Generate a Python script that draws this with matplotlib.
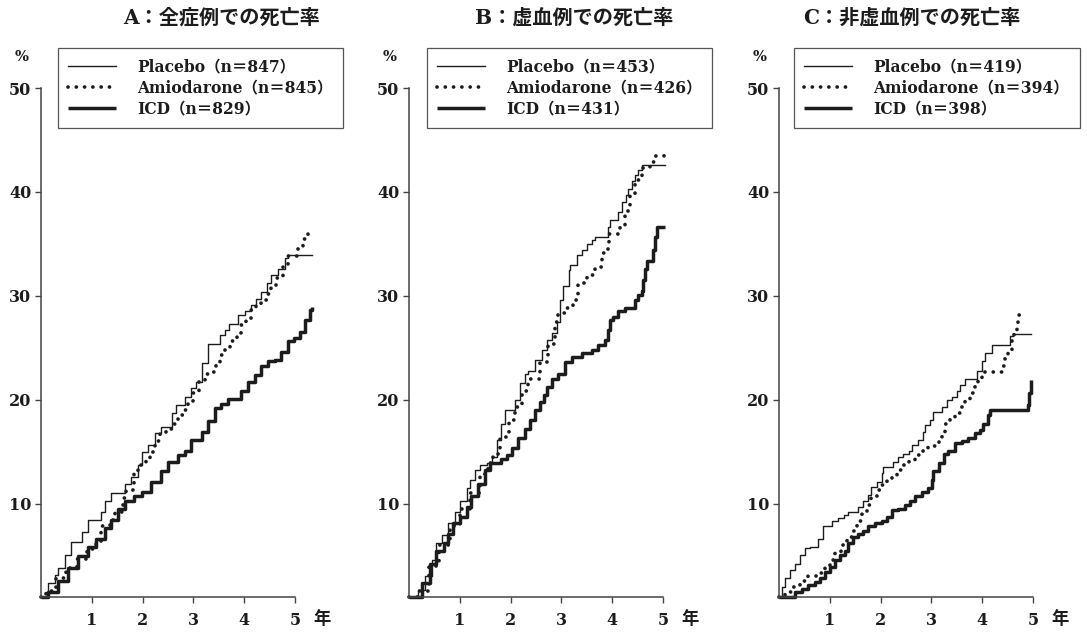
import matplotlib
matplotlib.use("Agg")
import matplotlib.pyplot as plt
import numpy as np

plt.rcParams["font.family"] = ["DejaVu Serif", "Noto Sans CJK JP"]
plt.rcParams["font.weight"] = "bold"

# ---- data (years, cumulative mortality %) ----
titles = ["A：全症例での死亡率", "B：虚血例での死亡率", "C：非虚血例での死亡率"]
groups = ["Placebo", "Amiodarone", "ICD"]
n_counts = [[847, 845, 829], [453, 426, 431], [419, 394, 398]]
x_ticks = [1, 2, 3, 4, 5]
y_ticks = [10, 20, 30, 40, 50]

# panel A
a_placebo_t = [0, 0.14, 0.27, 0.33, 0.47, 0.60, 0.80, 0.93, 1.19, 1.25, 1.38, 1.65, 1.78, 1.91,
               1.98, 2.11, 2.24, 2.37, 2.57, 2.66, 2.83, 2.96, 3.06, 3.16, 3.29, 3.52, 3.62,
               3.71, 3.88, 4.01, 4.14, 4.24, 4.34, 4.44, 4.53, 4.67, 4.80, 4.86, 5.33]
a_placebo_y = [1.0, 2.3, 3.1, 3.8, 5.0, 6.3, 7.3, 8.4, 9.2, 10.2, 11.0, 11.9, 12.6, 13.7,
               15.0, 15.6, 16.8, 17.4, 18.7, 19.5, 20.3, 21.1, 21.7, 23.5, 25.4, 26.2, 26.7,
               27.3, 28.1, 28.5, 29.1, 29.7, 30.4, 31.2, 32.0, 32.6, 33.6, 33.9, 33.9]
a_amio_t = [0, 0.1, 0.3, 0.5, 0.7, 0.9, 1.09, 1.19, 1.35, 1.45, 1.61, 1.68, 1.84, 1.91, 2.07,
            2.14, 2.24, 2.34, 2.47, 2.60, 2.70, 2.80, 2.89, 2.99, 3.12, 3.22, 3.39, 3.45, 3.52,
            3.62, 3.73, 3.85, 3.94, 4.04, 4.14, 4.24, 4.34, 4.44, 4.53, 4.63, 4.76, 4.86, 5.05,
            5.15, 5.26]
a_amio_y = [1.0, 1.6, 2.8, 3.8, 4.7, 5.6, 6.3, 7.8, 8.4, 9.2, 10.5, 11.3, 13.1, 13.7, 14.2,
            15.0, 16.0, 16.8, 17.2, 17.7, 18.5, 19.0, 19.8, 20.6, 21.7, 22.5, 22.7, 23.5, 24.3,
            25.1, 25.6, 26.4, 27.2, 27.8, 28.6, 29.1, 29.6, 30.2, 30.9, 31.7, 32.8, 33.8, 34.7,
            35.5, 35.9]
a_icd_t = [0, 0.14, 0.33, 0.53, 0.73, 0.93, 1.09, 1.25, 1.38, 1.52, 1.65, 1.84, 1.98, 2.17,
           2.37, 2.50, 2.70, 2.83, 2.96, 3.16, 3.29, 3.42, 3.55, 3.68, 3.94, 4.07, 4.21, 4.34,
           4.47, 4.60, 4.73, 4.86, 4.99, 5.09, 5.20, 5.30, 5.33]
a_icd_y = [1.0, 1.5, 2.5, 3.8, 4.9, 5.8, 6.6, 7.6, 8.4, 9.5, 10.2, 10.7, 11.1, 12.1,
           13.1, 14.0, 14.7, 15.1, 16.1, 16.9, 17.9, 19.2, 19.6, 20.1, 20.8, 21.7, 22.4, 23.2,
           23.7, 23.8, 24.6, 25.6, 25.9, 26.5, 27.7, 28.6, 28.9]

# panel B
b_placebo_t = [0, 0.18, 0.31, 0.45, 0.54, 0.64, 0.77, 0.91, 1.0, 1.14, 1.20, 1.30, 1.40, 1.53,
               1.63, 1.73, 1.81, 1.89, 2.09, 2.19, 2.28, 2.35, 2.48, 2.61, 2.71, 2.81, 2.91,
               2.97, 3.04, 3.14, 3.17, 3.30, 3.40, 3.50, 3.60, 3.66, 3.92, 3.96, 4.12, 4.19,
               4.28, 4.32, 4.38, 4.45, 4.51, 4.58, 5.04]
b_placebo_y = [1.0, 1.7, 3.0, 4.6, 6.2, 7.0, 8.1, 9.2, 10.2, 11.5, 12.3, 13.2, 13.7, 13.9,
               14.5, 16.1, 17.7, 19.0, 20.0, 21.6, 22.5, 22.8, 23.8, 24.8, 25.7, 26.4, 27.5,
               29.6, 30.9, 32.5, 33.0, 33.9, 34.4, 35.0, 35.4, 35.7, 36.6, 37.3, 38.1, 39.0,
               39.7, 40.3, 41.0, 41.6, 42.1, 42.6, 42.6]
b_amio_t = [0, 0.2, 0.4, 0.6, 0.8, 1.0, 1.2, 1.4, 1.55, 1.66, 1.79, 1.96, 2.09, 2.22, 2.35,
            2.58, 2.74, 2.87, 2.94, 3.07, 3.23, 3.33, 3.50, 3.66, 3.79, 3.92, 3.94, 4.15, 4.25,
            4.35, 4.45, 4.58, 4.74, 4.84, 5.01]
b_amio_y = [1.0, 1.6, 4.0, 6.0, 7.8, 9.5, 11.0, 12.8, 13.9, 14.8, 16.4, 18.0, 19.3, 20.8, 22.0,
            23.6, 25.4, 27.5, 28.3, 28.8, 29.6, 31.2, 32.0, 32.8, 34.1, 35.2, 35.9, 36.8, 38.2,
            39.7, 41.1, 42.3, 42.9, 43.5, 43.8]
b_icd_t = [0, 0.12, 0.25, 0.41, 0.54, 0.68, 0.77, 0.87, 1.0, 1.14, 1.23, 1.36, 1.50, 1.59,
           1.82, 1.92, 2.02, 2.15, 2.28, 2.38, 2.48, 2.58, 2.65, 2.71, 2.81, 2.94, 3.07, 3.20,
           3.40, 3.60, 3.73, 3.86, 3.92, 3.96, 4.02, 4.12, 4.25, 4.45, 4.51, 4.58, 4.61, 4.65,
           4.68, 4.81, 4.84, 4.88, 5.04]
b_icd_y = [1.0, 1.0, 2.3, 4.2, 5.4, 6.2, 7.1, 8.1, 8.7, 9.7, 10.7, 11.9, 13.2, 13.9,
           14.3, 14.7, 15.3, 16.3, 17.2, 18.0, 19.0, 19.8, 20.4, 21.2, 22.0, 22.5, 23.6, 24.1,
           24.5, 24.8, 25.3, 25.7, 26.7, 27.7, 28.0, 28.5, 28.8, 29.6, 30.1, 30.5, 31.5, 32.6,
           33.3, 34.4, 35.7, 36.6, 36.6]

# panel C
c_placebo_t = [0, 0.05, 0.12, 0.22, 0.31, 0.41, 0.51, 0.61, 0.77, 0.87, 1.04, 1.17, 1.27, 1.36,
               1.56, 1.66, 1.76, 1.82, 1.92, 2.02, 2.05, 2.25, 2.35, 2.45, 2.55, 2.61, 2.74,
               2.84, 2.87, 2.97, 3.04, 3.20, 3.30, 3.40, 3.50, 3.56, 3.66, 3.89, 3.99, 4.06,
               4.19, 4.55, 4.61, 4.96]
c_placebo_y = [1.0, 2.0, 2.8, 3.6, 4.2, 5.0, 5.7, 5.8, 6.6, 7.8, 8.3, 8.6, 8.9, 9.2,
               9.7, 10.2, 10.8, 11.6, 12.1, 12.9, 13.5, 14.0, 14.5, 14.8, 15.1, 15.6, 16.1,
               16.9, 17.6, 18.0, 18.8, 19.3, 20.0, 20.3, 20.8, 21.4, 22.0, 22.8, 23.7, 24.5,
               25.3, 26.1, 26.3, 26.3]
c_amio_t = [0, 0.12, 0.25, 0.41, 0.58, 0.81, 0.91, 1.0, 1.10, 1.23, 1.33, 1.43, 1.53, 1.63,
            1.73, 1.82, 1.92, 2.02, 2.12, 2.22, 2.32, 2.41, 2.55, 2.68, 2.81, 2.94, 3.07, 3.14,
            3.20, 3.27, 3.37, 3.46, 3.56, 3.66, 3.76, 3.86, 3.92, 3.99, 4.38, 4.45, 4.51, 4.58,
            4.63, 4.68, 4.71, 4.84]
c_amio_y = [1.0, 1.5, 2.0, 2.5, 3.0, 3.3, 3.8, 4.6, 5.2, 6.0, 6.8, 7.4, 8.3, 9.1,
            9.9, 10.7, 11.3, 11.8, 12.3, 12.7, 13.2, 13.7, 14.2, 14.7, 15.1, 15.5, 15.7, 16.0,
            16.9, 17.7, 18.2, 18.7, 19.3, 20.0, 20.6, 21.4, 22.0, 22.7, 23.2, 24.0, 24.8, 25.7,
            26.5, 27.3, 28.1, 28.1]
c_icd_t = [0, 0.22, 0.31, 0.45, 0.58, 0.71, 0.81, 0.91, 1.0, 1.10, 1.20, 1.30, 1.36, 1.46,
           1.56, 1.66, 1.76, 1.89, 2.02, 2.12, 2.22, 2.35, 2.48, 2.58, 2.68, 2.81, 2.94, 3.01,
           3.04, 3.14, 3.24, 3.33, 3.46, 3.60, 3.73, 3.86, 3.96, 4.02, 4.12, 4.15, 4.91, 4.92,
           4.96, 4.97]
c_icd_y = [1.0, 1.0, 1.5, 1.8, 2.2, 2.4, 2.8, 3.4, 3.9, 4.6, 5.0, 5.4, 6.2, 6.8,
           7.1, 7.4, 7.8, 8.1, 8.3, 8.7, 9.4, 9.5, 9.9, 10.2, 10.7, 11.1, 11.5, 12.3,
           13.1, 13.9, 14.8, 15.1, 15.8, 16.0, 16.3, 16.8, 17.1, 17.7, 18.5, 19.0, 19.5, 20.6,
           21.9, 21.9]

panels = [
    [(a_placebo_t, a_placebo_y), (a_amio_t, a_amio_y), (a_icd_t, a_icd_y)],
    [(b_placebo_t, b_placebo_y), (b_amio_t, b_amio_y), (b_icd_t, b_icd_y)],
    [(c_placebo_t, c_placebo_y), (c_amio_t, c_amio_y), (c_icd_t, c_icd_y)],
]

# ---- layout (pixels of the 1087x632 target) ----
W, H = 1087, 632
ax_left_px = [41, 409, 779]
legend_left_px = [58, 427, 794]
title_x = [3.56, 3.25, 2.62]
px_per_year = 50.8
xmax = 5.45
y_bottom_px, y_top_px = 597, 88

ink = "#1c1c1c"
styles = [
    dict(color=ink, lw=1.0, ls="-"),
    dict(color=ink, lw=2.7, ls=(0, (0.01, 2.2)), dash_capstyle="round"),
    dict(color=ink, lw=2.5, ls="-", solid_capstyle="butt"),
]

fig = plt.figure(figsize=(W / 100, H / 100), dpi=100)

for i in range(3):
    ax = fig.add_axes([ax_left_px[i] / W, (H - y_bottom_px) / H,
                       xmax * px_per_year / W, (y_bottom_px - y_top_px) / H])
    handles = []
    for (t, y), st in zip(panels[i], styles):
        h, = ax.plot(np.array(t), np.array(y), drawstyle="steps-post", clip_on=False, **st)
        handles.append(h)

    ax.set_xlim(0, xmax)
    ax.set_ylim(1, 50)
    for s in ["top", "right"]:
        ax.spines[s].set_visible(False)
    ax.spines["left"].set_bounds(1, 50)
    ax.spines["bottom"].set_bounds(0, 5)
    for s in ["left", "bottom"]:
        ax.spines[s].set_color("#444444")
        ax.spines[s].set_linewidth(1.1)
    ax.set_xticks(x_ticks)
    ax.set_yticks(y_ticks)
    ax.tick_params(direction="out", length=4, width=1, color="#444444",
                   labelsize=11.5, labelcolor=ink)
    ax.tick_params(axis="x", pad=7)
    ax.tick_params(axis="y", pad=3)

    ax.text(5.53, -0.045, "年", transform=ax.get_xaxis_transform(),
            ha="center", va="center", fontsize=12.5, color=ink, clip_on=False)
    ax.text(-0.38, 1.061, "%", transform=ax.get_xaxis_transform(),
            ha="center", va="center", fontsize=10.5, color=ink, clip_on=False)
    ax.text(title_x[i], 1.138, titles[i], transform=ax.get_xaxis_transform(),
            ha="center", va="center", fontsize=14.5, color=ink, clip_on=False)

    labels = [f"{g}（n＝{n}）" for g, n in zip(groups, n_counts[i])]
    leg = ax.legend(handles, labels, loc="upper left",
                    bbox_to_anchor=(legend_left_px[i] / W, 1 - 48 / H),
                    bbox_transform=fig.transFigure, borderaxespad=0,
                    fontsize=11.2, handlelength=3.1, handletextpad=1.35,
                    labelspacing=0.27, borderpad=0.66, fancybox=False,
                    framealpha=1, edgecolor="#555555")
    leg.get_frame().set_linewidth(0.9)
    for txt in leg.get_texts():
        txt.set_color(ink)

fig.savefig("out.png", dpi=100)
